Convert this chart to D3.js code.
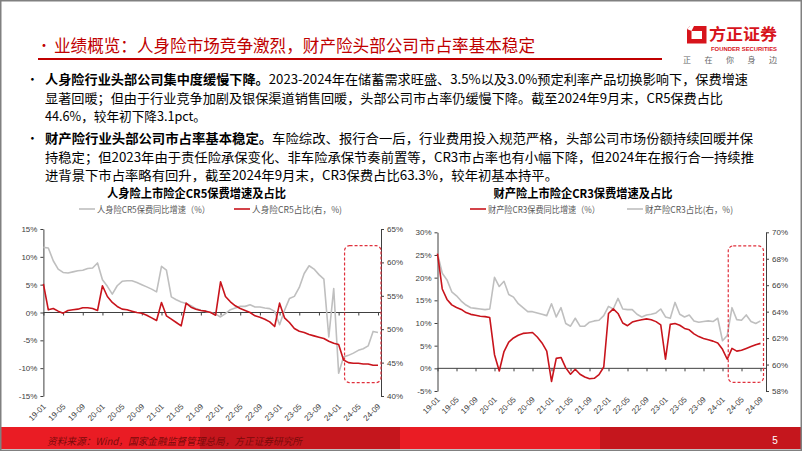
<!DOCTYPE html>
<html><head><meta charset="utf-8">
<script src="https://cdn.jsdelivr.net/npm/d3@7/dist/d3.min.js"></script>
<style>
html,body{margin:0;padding:0;background:#fff;}
svg{display:block;}
text{font-family:"Noto Sans CJK SC","Liberation Sans",sans-serif;}
.num{font-family:"Liberation Sans","DejaVu Sans",sans-serif;}
</style></head><body>
<svg id="c" width="802" height="451"></svg>
<script>
const months = ["19-01","19-02","19-03","19-04","19-05","19-06","19-07","19-08","19-09","19-10","19-11","19-12",
"20-01","20-02","20-03","20-04","20-05","20-06","20-07","20-08","20-09","20-10","20-11","20-12",
"21-01","21-02","21-03","21-04","21-05","21-06","21-07","21-08","21-09","21-10","21-11","21-12",
"22-01","22-02","22-03","22-04","22-05","22-06","22-07","22-08","22-09","22-10","22-11","22-12",
"23-01","23-02","23-03","23-04","23-05","23-06","23-07","23-08","23-09","23-10","23-11","23-12",
"24-01","24-02","24-03","24-04","24-05","24-06","24-07","24-08","24-09"];
const tickLabels = ["19-01","19-05","19-09","20-01","20-05","20-09","21-01","21-05","21-09","22-01","22-05","22-09","23-01","23-05","23-09","24-01","24-05","24-09"];

// 人身险CR5保费同比增速 (%)
const lifeGrowth = [11.7,11.6,9.3,7.8,7.2,7.1,7.3,7.5,7.6,7.9,8.0,8.9,
5.9,4.7,3.3,4.8,5.6,5.7,5.7,5.4,5.0,4.6,4.2,3.7,
8.3,7.6,2.8,2.3,1.9,1.6,1.2,0.7,0.4,0.2,0.0,-0.3,
-0.8,-0.2,0.5,0.8,1.1,1.1,1.4,1.0,1.0,0.8,0.7,0.2,
-2.2,0.4,2.5,2.9,4.5,7.0,8.4,7.8,6.8,6.0,-4.4,4.3,
-10.9,-8.0,-7.7,-7.3,-6.8,-6.5,-6.0,-3.4,-3.6];
// 人身险CR5占比 (右, %)
const lifeShare = [56.8,52.9,53.1,52.7,52.4,52.8,52.9,53.0,53.2,53.2,53.1,52.8,
56.5,54.9,54.0,53.4,53.0,52.9,52.7,52.5,52.4,52.1,51.7,51.3,
54.0,52.0,51.5,51.0,50.5,53.9,53.3,53.0,52.8,52.7,52.5,52.1,
57.1,54.9,54.1,53.5,53.1,52.8,52.5,52.0,51.8,51.5,51.1,50.4,
53.9,51.7,51.0,50.1,49.7,49.5,49.2,49.0,48.8,48.6,48.2,47.9,
47.7,45.4,45.0,44.9,44.9,44.8,44.8,44.6,44.6];
// 财产险CR3保费同比增速 (%)
const pcGrowth = [25.3,17.5,15.2,14.0,13.4,13.0,12.3,11.9,11.7,11.5,11.4,11.2,
3.0,-0.6,3.7,5.8,6.7,7.3,7.7,7.8,7.9,6.9,5.6,3.8,
-2.9,2.2,2.4,0.1,-1.3,-0.2,-1.3,-1.9,-2.3,-2.2,-1.4,0.3,
12.1,13.1,12.1,10.0,9.4,10.2,10.5,10.7,10.9,10.7,10.3,9.6,
2.0,9.7,9.9,9.5,8.8,8.5,7.6,7.0,6.6,6.3,6.0,5.6,
4.2,2.0,4.4,3.8,4.0,4.4,4.8,5.2,5.5];
// 财产险CR3占比 (右, %)
const pcShare = [68.4,66.9,66.4,65.5,65.2,64.8,64.5,64.3,64.25,64.2,64.15,64.2,
66.6,65.9,66.3,65.3,65.1,64.6,64.3,64.0,64.0,63.9,63.8,63.7,
64.6,63.6,64.3,63.1,62.9,63.5,62.9,62.9,63.2,63.3,63.35,63.7,
64.4,64.2,65.0,64.2,64.15,64.15,63.8,63.6,63.75,63.8,63.9,64.2,
63.6,63.5,64.7,63.8,63.6,63.75,63.3,63.2,63.25,63.3,63.25,63.5,
61.8,62.2,64.3,63.4,63.35,63.75,63.25,63.1,63.3];

const lifeLeftTicks = [-15,-10,-5,0,5,10,15];
const lifeRightTicks = [40,45,50,55,60,65];
const pcLeftTicks = [-5,0,5,10,15,20,25,30];
const pcRightTicks = [58,60,62,64,66,68,70];

const RED = "#c8141c", GRAY = "#bfbfbf", AX = "#404040";
const svg = d3.select("#c");

svg.append("rect").attr("x",0).attr("y",0).attr("width",802).attr("height",451).attr("fill","#fff");

// title
svg.append("text").attr("x",37).attr("y",44).attr("dominant-baseline","central")
  .attr("font-size",14).attr("fill","#c00000").text("•");
svg.append("text").attr("x",54).attr("y",44).attr("dominant-baseline","central")
  .attr("font-size",17.5).attr("fill","#c00000").attr("textLength",481).attr("lengthAdjust","spacingAndGlyphs")
  .text("业绩概览：人身险市场竞争激烈，财产险头部公司市占率基本稳定");
svg.append("rect").attr("x",38).attr("y",58).attr("width",624).attr("height",2).attr("fill","#c00000");

// logo
svg.append("path").attr("d","M690,26 L706.5,26 L706.5,43.5 L687,43.5 L687,29 Z M691.5,31 L691.5,39 L702,39 L702,31 Z")
  .attr("fill","#d7141c").attr("fill-rule","evenodd");
svg.append("path").attr("d","M687,29 L690,26 L694,26 L691.5,31 Z").attr("fill","#fff");
svg.append("text").attr("x",709).attr("y",33).attr("dominant-baseline","central").attr("font-size",16)
  .attr("font-weight","bold").attr("fill","#d7141c").attr("textLength",68).attr("lengthAdjust","spacingAndGlyphs").text("方正证券");
svg.append("text").attr("x",711).attr("y",49).attr("dominant-baseline","central").attr("font-size",6)
  .attr("font-weight","bold").attr("fill","#d7141c").attr("class","num").attr("textLength",66).attr("lengthAdjust","spacingAndGlyphs").text("FOUNDER SECURITIES");
svg.append("text").attr("x",683).attr("y",59.5).attr("dominant-baseline","central").attr("font-size",8)
  .attr("fill","#666").attr("textLength",94).attr("lengthAdjust","spacing").text("正在你身边");

// body text
const body = [
  {y:78, bullet:true, bold:"人身险行业头部公司集中度缓慢下降。", rest:"2023-2024年在储蓄需求旺盛、3.5%以及3.0%预定利率产品切换影响下，保费增速", w:703},
  {y:96.6, rest:"显著回暖；但由于行业竞争加剧及银保渠道销售回暖，头部公司市占率仍缓慢下降。截至2024年9月末，CR5保费占比", w:678},
  {y:115.2, rest:"44.6%，较年初下降3.1pct。", w:161},
  {y:137, bullet:true, bold:"财产险行业头部公司市占率基本稳定。", rest:"车险综改、报行合一后，行业费用投入规范严格，头部公司市场份额持续回暖并保", w:708},
  {y:155.6, rest:"持稳定；但2023年由于责任险承保变化、非车险承保节奏前置等，CR3市占率也有小幅下降，但2024年在报行合一持续推", w:709},
  {y:174.2, rest:"进背景下市占率略有回升，截至2024年9月末，CR3保费占比63.3%，较年初基本持平。", w:513}
];
body.forEach(l => {
  if (l.bullet) svg.append("text").attr("x",26).attr("y",l.y).attr("dominant-baseline","central")
     .attr("font-size",12.8).attr("fill","#000").text("•");
  const t = svg.append("text").attr("x",45).attr("y",l.y).attr("dominant-baseline","central")
     .attr("font-size",12.8).attr("fill","#000").attr("textLength",l.w).attr("lengthAdjust","spacingAndGlyphs");
  if (l.bold) t.append("tspan").attr("font-weight","bold").text(l.bold);
  t.append("tspan").text(l.rest);
});

// ---------- charts ----------
function drawChart(c) {
  const g = svg.append("g");
  const x = d3.scalePoint().domain(months).range([c.x0, c.x1]);
  const yl = d3.scaleLinear().domain(c.leftDom).range([c.yBot, c.yTop]);
  const yr = d3.scaleLinear().domain(c.rightDom).range([c.yBot, c.yTop]);

  g.append("text").attr("x",c.titleX).attr("y",192.6).attr("text-anchor","middle").attr("dominant-baseline","central")
    .attr("font-size",12).attr("font-weight","bold").attr("fill","#000")
    .attr("textLength",179).attr("lengthAdjust","spacingAndGlyphs").text(c.title);
  c.legend.forEach(L => {
    g.append("line").attr("x1",L.x).attr("x2",L.x+16).attr("y1",209).attr("y2",209)
      .attr("stroke",L.color).attr("stroke-width",1.6);
    g.append("text").attr("x",L.x+18).attr("y",209).attr("dominant-baseline","central")
      .attr("font-size",9).attr("fill","#595959").attr("textLength",L.w).attr("lengthAdjust","spacingAndGlyphs").text(L.text);
  });

  const la = g.append("g").attr("transform",`translate(${c.x0},0)`)
    .call(d3.axisLeft(yl).tickValues(c.leftTicks).tickSize(3).tickSizeOuter(0).tickPadding(3).tickFormat(d=>d+"%"));
  const ra = g.append("g").attr("transform",`translate(${c.axisR},0)`)
    .call(d3.axisRight(yr).tickValues(c.rightTicks).tickSize(3).tickSizeOuter(0).tickPadding(3).tickFormat(d=>d+"%"));
  [la,ra].forEach(a => {
    a.selectAll("path,line").attr("stroke",AX);
    a.selectAll("text").attr("class","num").attr("font-size",8).attr("fill","#404040");
  });
  const y0 = yl(0);
  g.append("line").attr("x1",c.x0).attr("x2",c.axisR).attr("y1",y0).attr("y2",y0).attr("stroke",AX).attr("stroke-width",1);
  const za = g.append("g").attr("transform",`translate(0,${y0})`)
    .call(d3.axisBottom(x).tickValues(tickLabels).tickSize(3).tickSizeOuter(0).tickFormat(""));
  za.select(".domain").remove();
  za.selectAll("line").attr("stroke",AX);
  g.selectAll(".xl").data(tickLabels).join("text").attr("class","num")
    .attr("transform",d=>`translate(${x(d)+1},${c.yBot+c.labDy}) rotate(-45)`)
    .attr("text-anchor","end").attr("dy","0.35em").attr("font-size",8).attr("fill","#404040").text(d=>d);

  const lineL = d3.line().x((d,i)=>x(months[i])).y(d=>yl(d));
  const lineR = d3.line().x((d,i)=>x(months[i])).y(d=>yr(d));
  const series = [
    {data:c.leftSeries, gen:lineL, color:c.leftColor},
    {data:c.rightSeries, gen:lineR, color:c.rightColor}
  ].sort((a,b)=> (a.color===GRAY?-1:1) - (b.color===GRAY?-1:1));
  series.forEach(s => g.append("path").datum(s.data).attr("d",s.gen).attr("fill","none")
      .attr("stroke",s.color).attr("stroke-width",1.6).attr("stroke-linejoin","round"));

  const bx0 = x(c.boxFrom)+1, bx1 = x(months[months.length-1])+3;
  g.append("rect").attr("x",bx0).attr("y",yl(c.boxTop)).attr("width",bx1-bx0)
    .attr("height",yl(c.boxBot)-yl(c.boxTop)).attr("rx",5).attr("fill","none")
    .attr("stroke","#e0303c").attr("stroke-width",1.2).attr("stroke-dasharray","3,2");
}

drawChart({
  x0:43.4, x1:378, axisR:381, yTop:229, yBot:396, labDy:9,
  leftDom:[-15,15], rightDom:[40,65], leftTicks:lifeLeftTicks, rightTicks:lifeRightTicks,
  leftSeries:lifeGrowth, leftColor:GRAY, rightSeries:lifeShare, rightColor:RED,
  title:"人身险上市险企CR5保费增速及占比", titleX:196.5,
  legend:[{x:79,color:GRAY,text:"人身险CR5保费同比增速（%）",w:113},{x:234,color:RED,text:"人身险CR5占比(右，%)",w:90}],
  boxFrom:"24-02", boxTop:12, boxBot:-12.6
});
drawChart({
  x0:437.5, x1:760.5, axisR:766, yTop:232.3, yBot:391, labDy:7,
  leftDom:[-5,30], rightDom:[58,70], leftTicks:pcLeftTicks, rightTicks:pcRightTicks,
  leftSeries:pcGrowth, leftColor:RED, rightSeries:pcShare, rightColor:GRAY,
  title:"财产险上市险企CR3保费增速及占比", titleX:583,
  legend:[{x:470,color:RED,text:"财产险CR3保费同比增速（%）",w:112},{x:627,color:GRAY,text:"财产险CR3占比(右，%)",w:88}],
  boxFrom:"24-02", boxTop:27, boxBot:-3.1
});

// ---------- footer ----------
const bands = [{x:0,c:"#ea1c24"},{x:200,c:"#c5161d"},{x:400,c:"#ea1c24"},{x:600,c:"#c5161d"}];
bands.forEach(b => svg.append("rect").attr("x",b.x).attr("y",427).attr("width",202).attr("height",22).attr("fill",b.c));
svg.append("text").attr("x",47).attr("y",440).attr("dominant-baseline","central").attr("font-size",10)
  .attr("font-style","italic").attr("fill","#7a0a0a").attr("textLength",255).attr("lengthAdjust","spacingAndGlyphs")
  .text("资料来源：Wind，国家金融监督管理总局，方正证券研究所");
svg.append("text").attr("x",775).attr("y",440).attr("dominant-baseline","central").attr("font-size",10)
  .attr("class","num").attr("fill","#fff").attr("text-anchor","middle").text("5");
svg.append("rect").attr("x",0.75).attr("y",0.75).attr("width",800.5).attr("height",449.5)
  .attr("fill","none").attr("stroke","#808080").attr("stroke-width",1.5);
</script>
</body></html>
